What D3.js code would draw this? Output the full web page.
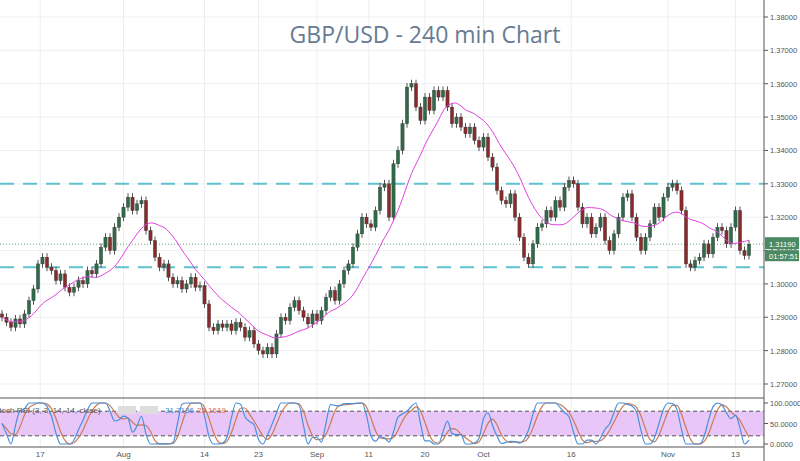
<!DOCTYPE html><html><head><meta charset="utf-8"><script src="https://d3js.org/d3.v7.min.js"></script>
<style>body{margin:0;background:#fff}</style></head><body><svg id="c" width="800" height="461"></svg>
<script>
const closes=[1.2900,1.2885,1.2870,1.2895,1.2880,1.2910,1.2950,1.2985,1.3060,1.3080,
1.3050,1.3040,1.3010,1.3030,1.2990,1.2975,1.2990,1.3010,1.3000,1.3040,
1.3030,1.3060,1.3110,1.3140,1.3100,1.3170,1.3200,1.3230,1.3260,1.3220,
1.3240,1.3250,1.3160,1.3130,1.3080,1.3050,1.3060,1.3020,1.3000,1.3010,
1.2985,1.3000,1.3020,1.2990,1.2995,1.2940,1.2870,1.2860,1.2880,1.2870,
1.2880,1.2860,1.2885,1.2870,1.2840,1.2860,1.2820,1.2800,1.2790,1.2810,
1.2790,1.2850,1.2900,1.2890,1.2930,1.2950,1.2920,1.2900,1.2880,1.2910,
1.2890,1.2920,1.2960,1.2980,1.2950,1.3000,1.3040,1.3060,1.3110,1.3150,
1.3200,1.3180,1.3170,1.3220,1.3290,1.3300,1.3200,1.3360,1.3400,1.3480,
1.3590,1.3600,1.3530,1.3490,1.3560,1.3520,1.3580,1.3560,1.3580,1.3530,
1.3480,1.3500,1.3470,1.3450,1.3470,1.3430,1.3410,1.3440,1.3380,1.3350,
1.3280,1.3250,1.3240,1.3270,1.3200,1.3140,1.3080,1.3060,1.3120,1.3170,
1.3180,1.3220,1.3200,1.3250,1.3230,1.3290,1.3310,1.3300,1.3230,1.3180,
1.3200,1.3150,1.3170,1.3200,1.3130,1.3100,1.3150,1.3200,1.3260,1.3270,
1.3200,1.3140,1.3100,1.3140,1.3180,1.3230,1.3200,1.3260,1.3290,1.3300,
1.3280,1.3220,1.3060,1.3050,1.3070,1.3080,1.3120,1.3090,1.3140,1.3170,
1.3160,1.3120,1.3170,1.3220,1.3100,1.3085,1.3119];
const firstOpen=1.2910;
const dateTicks=[["17",8.5],["Aug",27],["14",45],["23",57],["Sep",70],["11",81.5],["20",94],["Oct",107],["16",126.5],["Nov",148],["13",163]];
const priceTicks=[1.27,1.28,1.29,1.30,1.31,1.32,1.33,1.34,1.35,1.36,1.37,1.38];
const levels=[1.3300,1.3050];
const stochTicks=[0,50,100];
const last=1.3119, timer="01:57:51";
const legendVals=["31.7136","25.1619"];

const svg=d3.select("#c");
const W=764, F="Liberation Sans";
const x=d3.scaleLinear().domain([0,1]).range([2,6.5]);
const y=d3.scaleLinear().domain([1.27,1.38]).range([384,17]);
const ys=d3.scaleLinear().domain([0,100]).range([444,403]);
dateTicks.forEach(d=>svg.append("line").attr("x1",x(d[1])).attr("x2",x(d[1])).attr("y1",0).attr("y2",447).attr("stroke","#eceff2"));
priceTicks.forEach(p=>svg.append("line").attr("x1",0).attr("x2",W).attr("y1",y(p)).attr("y2",y(p)).attr("stroke","#eceff2"));
levels.forEach(p=>svg.append("line").attr("x1",0).attr("x2",W).attr("y1",y(p)).attr("y2",y(p)).attr("stroke","#5fc3cf").attr("stroke-width",2).attr("stroke-dasharray","14,9"));
svg.append("line").attr("x1",0).attr("x2",W).attr("y1",y(last)).attr("y2",y(last)).attr("stroke","#6aa37c").attr("stroke-dasharray","1,2");
svg.append("text").attr("x",425).attr("y",43).attr("text-anchor","middle").attr("font-family","Open Sans").attr("font-size",23).attr("fill","#677b92").text("GBP/USD - 240 min Chart");
const data=closes.map((c,i)=>{const o=i?closes[i-1]:firstOpen;return {i,o,c,h:Math.max(o,c)+0.0012,l:Math.min(o,c)-0.0012};});
const g=svg.append("g");
data.forEach(d=>{const up=d.c>=d.o;const col=up?"#2f6b4a":"#8b2a2a";
g.append("line").attr("x1",x(d.i)).attr("x2",x(d.i)).attr("y1",y(d.h)).attr("y2",y(d.l)).attr("stroke","#555");
g.append("rect").attr("x",x(d.i)-1.6).attr("width",3.2).attr("y",y(Math.max(d.o,d.c))).attr("height",Math.max(1,Math.abs(y(d.o)-y(d.c)))).attr("fill",col).attr("stroke","#333").attr("stroke-width",0.4);});
const P=12;const ma=closes.map((c,i)=>[i,d3.mean(closes.slice(Math.max(0,i-P+1),i+1))]);
svg.append("path").datum(ma).attr("d",d3.line().x(d=>x(d[0])).y(d=>y(d[1])).curve(d3.curveBasis)).attr("fill","none").attr("stroke","#e040e0").attr("stroke-width",1);
const rsi=[];const N=6;for(let i=0;i<closes.length;i++){let gs=0,ls=0;for(let j=Math.max(1,i-N+1);j<=i;j++){const dd=closes[j]-closes[j-1];if(dd>0)gs+=dd;else ls-=dd;}rsi.push(gs+ls?100*gs/(gs+ls):50);}
const st=rsi.map((r,i)=>{const w=rsi.slice(Math.max(0,i-N+1),i+1);const mn=d3.min(w),mx=d3.max(w);return mx>mn?100*(r-mn)/(mx-mn):50;});
const K=st.map((s,i)=>d3.mean(st.slice(Math.max(0,i-1),i+1)));
const D=K.map((s,i)=>d3.mean(K.slice(Math.max(0,i-2),i+1)));
svg.append("rect").attr("x",0).attr("width",W).attr("y",ys(80)).attr("height",ys(20)-ys(80)).attr("fill","#e8c6f8");
[80,20].forEach(v=>svg.append("line").attr("x1",0).attr("x2",W).attr("y1",ys(v)).attr("y2",ys(v)).attr("stroke","#555").attr("stroke-dasharray","4,3"));
const ln=d3.line().x((d,i)=>x(i)).y(d=>ys(d)).curve(d3.curveMonotoneX);
svg.append("path").datum(D).attr("d",ln).attr("fill","none").attr("stroke","#c77b55").attr("stroke-width",1.2);
svg.append("path").datum(K).attr("d",ln).attr("fill","none").attr("stroke","#4a90d9").attr("stroke-width",1.2);
svg.append("line").attr("x1",0).attr("x2",W).attr("y1",398).attr("y2",398).attr("stroke","#555");
svg.append("line").attr("x1",0).attr("x2",W).attr("y1",447).attr("y2",447).attr("stroke","#555");
svg.append("text").attr("x",-6).attr("y",413).attr("font-family",F).attr("font-size",8).attr("fill","#555").text("Stoch RSI (3, 3, 14, 14, close)");
[118,140].forEach(px=>svg.append("rect").attr("x",px).attr("y",406).attr("width",18).attr("height",8).attr("fill","#ddd"));
svg.append("text").attr("x",165).attr("y",413).attr("font-family",F).attr("font-size",8).attr("fill","#3c8dd8").text(legendVals[0]);
svg.append("text").attr("x",197).attr("y",413).attr("font-family",F).attr("font-size",8).attr("fill","#e0683c").text(legendVals[1]);
svg.append("line").attr("x1",W).attr("x2",W).attr("y1",0).attr("y2",461).attr("stroke","#555");
priceTicks.forEach(p=>{svg.append("line").attr("x1",W).attr("x2",W+4).attr("y1",y(p)).attr("y2",y(p)).attr("stroke","#555");
svg.append("text").attr("x",W+6).attr("y",y(p)+3).attr("font-family",F).attr("font-size",7.5).attr("fill","#555").text(p.toFixed(5));});
stochTicks.forEach(v=>{svg.append("line").attr("x1",W).attr("x2",W+4).attr("y1",ys(v)).attr("y2",ys(v)).attr("stroke","#555");
svg.append("text").attr("x",W+6).attr("y",ys(v)+3).attr("font-family",F).attr("font-size",7.5).attr("fill","#555").text(v.toFixed(4));});
svg.append("rect").attr("x",W+1).attr("y",y(last)-7).attr("width",34).attr("height",12).attr("fill","#4a8a62");
svg.append("text").attr("x",W+5).attr("y",y(last)+2.5).attr("font-family",F).attr("font-size",7.5).attr("fill","#fff").text(last.toFixed(5));
svg.append("rect").attr("x",W+1).attr("y",y(last)+6).attr("width",34).attr("height",11).attr("fill","#4a8a62");
svg.append("text").attr("x",W+5).attr("y",y(last)+14.5).attr("font-family",F).attr("font-size",7.5).attr("fill","#fff").text(timer);
dateTicks.forEach(d=>svg.append("text").attr("x",x(d[1])).attr("y",457).attr("text-anchor","middle").attr("font-family",F).attr("font-size",8).attr("fill","#555").text(d[0]));
</script></body></html>
